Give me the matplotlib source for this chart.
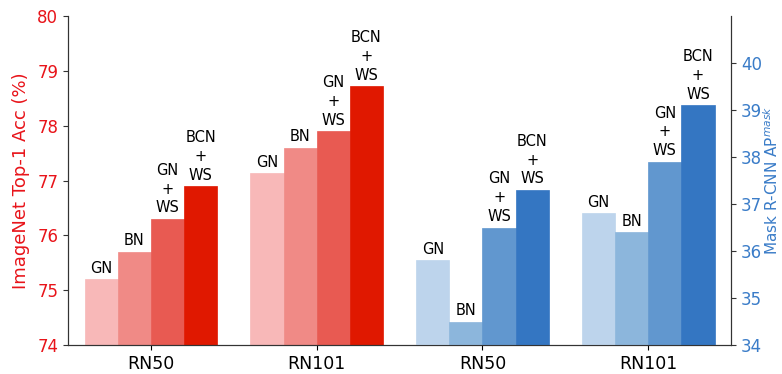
import matplotlib
matplotlib.use("Agg")
import matplotlib.pyplot as plt
import numpy as np

groups = ["RN50", "RN101", "RN50", "RN101"]
methods = ["GN", "BN", "GN\n+\nWS", "BCN\n+\nWS"]
imagenet_rn50 = [75.2, 75.7, 76.3, 76.9]
imagenet_rn101 = [77.13, 77.6, 77.9, 78.72]
mask_rn50 = [35.8, 34.5, 36.5, 37.3]
mask_rn101 = [36.8, 36.4, 37.9, 39.1]

reds = ["#f8b8b8", "#f08a86", "#e85a52", "#e01800"]
blues = ["#bdd4ec", "#8cb6dc", "#6197cf", "#3476c2"]
red_axis = "#e8141a"
blue_axis = "#3a7cc8"

fig = plt.figure(figsize=(7.82, 3.74), dpi=100)
ax = fig.add_axes([0.087, 0.0775, 0.848, 0.8795])
ax2 = ax.twinx()

w = 0.2
offsets = (np.arange(4) - 1.5) * w

def draw(a, center, vals, colors):
    for off, v, c, m in zip(offsets, vals, colors, methods):
        a.bar(center + off, v, w, color=c, edgecolor=c, linewidth=0.5)
        a.annotate(m, (center + off, v), xytext=(0, 2.5), textcoords="offset points",
                   ha="center", va="bottom", fontsize=10.5, linespacing=1.32)

draw(ax, 0, imagenet_rn50, reds)
draw(ax, 1, imagenet_rn101, reds)
draw(ax2, 2, mask_rn50, blues)
draw(ax2, 3, mask_rn101, blues)

ax.set_xlim(-0.5, 3.5)
ax.set_ylim(74, 80)
ax2.set_ylim(34, 41)
ax.set_xticks(range(4))
ax.set_xticklabels(groups, fontsize=12.5)
ax.set_yticks(range(74, 81))
ax2.set_yticks(range(34, 41))
ax.tick_params(axis="y", colors=red_axis, labelsize=12)
ax2.tick_params(axis="y", colors=blue_axis, labelsize=12)
for a in (ax, ax2):
    a.tick_params(axis="y", color="#333333")
    a.spines["top"].set_visible(False)
    for s in ("left", "right", "bottom"):
        a.spines[s].set_color("#333333")
ax.set_ylabel("ImageNet Top-1 Acc (%)", color=red_axis, fontsize=13, labelpad=5)
ax2.set_ylabel("Mask R-CNN AP$^{mask}$", color=blue_axis, fontsize=11, labelpad=0)

fig.savefig("out.png", dpi=100)
plt.close(fig)
